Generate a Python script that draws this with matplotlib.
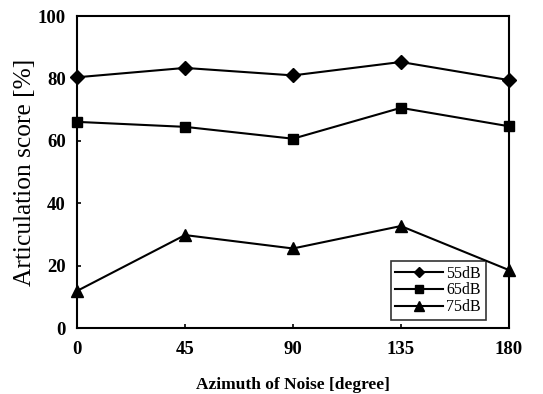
import matplotlib
matplotlib.use("Agg")
import matplotlib.pyplot as plt

azimuth = [0, 45, 90, 135, 180]
score_55 = [80.4, 83.4, 81.0, 85.3, 79.5]
score_65 = [66.1, 64.5, 60.7, 70.6, 64.7]
score_75 = [11.9, 29.8, 25.5, 32.7, 18.6]
series_labels = ["55dB", "65dB", "75dB"]
x_ticks = [0, 45, 90, 135, 180]
y_ticks = [0, 20, 40, 60, 80, 100]

plt.rcParams['font.family'] = ['Liberation Serif', 'DejaVu Serif']

fig = plt.figure(figsize=(5.43, 3.94), dpi=100)
ax = fig.add_axes([0.142, 0.1675, 0.795, 0.7915])

ax.plot(azimuth, score_55, color='black', lw=1.5, marker='D', ms=7, label=series_labels[0], clip_on=False, zorder=3)
ax.plot(azimuth, score_65, color='black', lw=1.5, marker='s', ms=7, label=series_labels[1], clip_on=False, zorder=3)
ax.plot(azimuth, score_75, color='black', lw=1.5, marker='^', ms=9, label=series_labels[2], clip_on=False, zorder=3)

ax.set_xlim(0, 180)
ax.set_ylim(0, 100)
ax.set_xticks(x_ticks)
ax.set_yticks(y_ticks)
ax.tick_params(direction='in', length=3, width=1.2, labelsize=13.5)
ax.tick_params(axis='x', pad=9)
ax.tick_params(axis='y', pad=8)
for lab in ax.get_xticklabels() + ax.get_yticklabels():
    lab.set_fontweight('bold')
for s in ax.spines.values():
    s.set_linewidth(1.5)

ax.set_xlabel("Azimuth of Noise [degree]", fontsize=12.5, fontweight='bold', labelpad=14)
ax.set_ylabel("Articulation score [%]", fontsize=18.3, labelpad=1)

leg = ax.legend(loc='lower right', bbox_to_anchor=(0.947, 0.026), fontsize=11.5,
                frameon=True, fancybox=False, edgecolor='black', handlelength=3.0,
                markerscale=0.8, borderpad=0.3, labelspacing=0.05, handletextpad=0.2,
                borderaxespad=0)
leg.get_frame().set_linewidth(1.2)

fig.savefig("out.png", dpi=100)
